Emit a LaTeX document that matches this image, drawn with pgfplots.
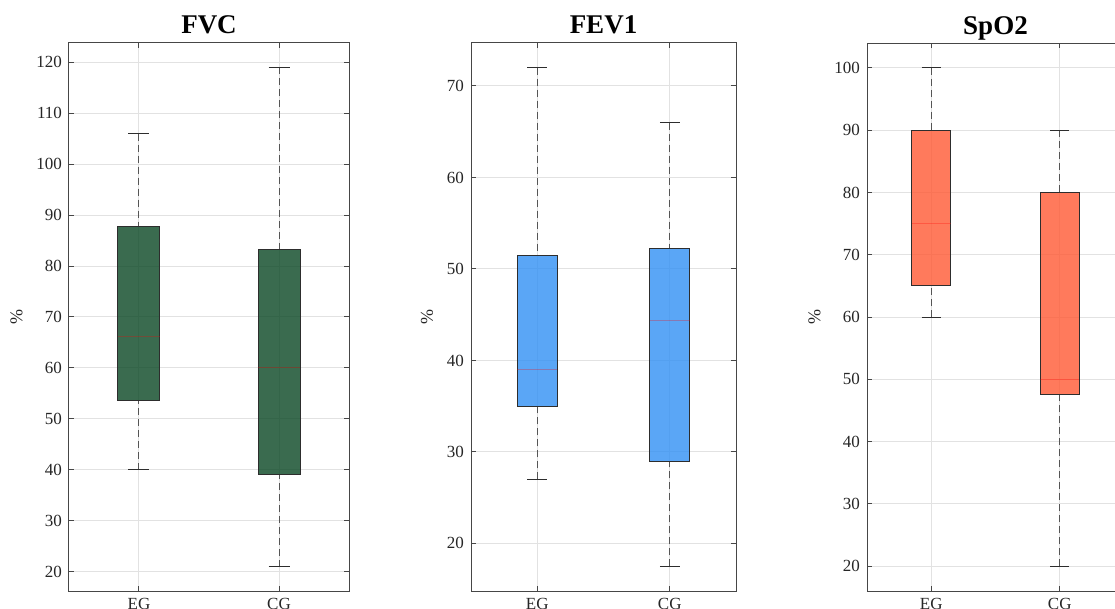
\documentclass[border=0pt]{standalone}
\usepackage{fontspec}
\setmainfont{Liberation Serif}
\usepackage{pgfplots}
\pgfplotsset{compat=1.18}
\usepgfplotslibrary{statistics}
\definecolor{cgreen}{RGB}{9,70,35}
\definecolor{cblue}{RGB}{49,144,244}
\definecolor{cred}{RGB}{255,89,51}
\definecolor{axgray}{RGB}{70,70,70}
\definecolor{gridgray}{RGB}{226,226,226}
\definecolor{whiskgray}{RGB}{85,85,85}
\definecolor{capgray}{RGB}{45,45,45}
\definecolor{txt}{RGB}{38,38,38}
\pgfplotsset{
  mybox/.style={
    scale only axis, height=274pt, anchor=south west,
    xmin=0.5, xmax=2.5, xtick={1,2}, xticklabels={EG,CG},
    grid=major, major grid style={gridgray, line width=0.5pt},
    axis line style={axgray, line width=0.5pt},
    tick style={axgray, line width=0.5pt},
    tick align=inside, major tick length=2.5pt,
    xtick pos=both, ytick pos=both,
    ticklabel style={font=\fontsize{8.5}{10}\selectfont, text=txt},
    /pgf/number format/assume math mode=true,
    ylabel={\%}, ylabel style={font=\fontsize{9}{10}\selectfont, text=txt},
    title style={font=\bfseries\fontsize{13.5}{15}\selectfont, text=black, anchor=base, yshift=-1.5pt},
    boxplot/draw direction=y,
    boxplot/box extend=0.3,
    boxplot/whisker extend=0.15,
    boxplot/every median/.style={draw=red, draw opacity=0.28, line width=0.5pt},
    boxplot/draw/lower whisker/.code={%
      \draw[dash pattern=on 3.5pt off 2pt, whiskgray, line width=0.5pt]
        (boxplot box cs:\pgfplotsboxplotvalue{lower whisker},0.5) -- (boxplot box cs:\pgfplotsboxplotvalue{lower quartile},0.5);
      \draw[solid, capgray, line width=0.5pt]
        (boxplot box cs:\pgfplotsboxplotvalue{lower whisker},0.25) -- (boxplot box cs:\pgfplotsboxplotvalue{lower whisker},0.75);
    },
    boxplot/draw/upper whisker/.code={%
      \draw[dash pattern=on 3.5pt off 2pt, whiskgray, line width=0.5pt]
        (boxplot box cs:\pgfplotsboxplotvalue{upper whisker},0.5) -- (boxplot box cs:\pgfplotsboxplotvalue{upper quartile},0.5);
      \draw[solid, capgray, line width=0.5pt]
        (boxplot box cs:\pgfplotsboxplotvalue{upper whisker},0.25) -- (boxplot box cs:\pgfplotsboxplotvalue{upper whisker},0.75);
    },
  }
}
\begin{document}
\begin{tikzpicture}
\useasboundingbox (0pt,0pt) rectangle (557.5pt,-304.5pt);
\clip (0pt,0pt) rectangle (557.5pt,-304.5pt);
% FVC
\begin{axis}[mybox, at={(34.5pt,-295.5pt)}, width=140pt,
  ymin=16.2, ymax=123.8, ytick={20,30,...,120}, title={FVC},
  boxplot/every box/.style={fill=cgreen, fill opacity=0.8, draw=capgray, line width=0.5pt}]
\addplot[boxplot prepared={draw position=1, lower whisker=40, lower quartile=53.6, median=66.1, upper quartile=87.7, upper whisker=106}, capgray, solid] coordinates {};
\addplot[boxplot prepared={draw position=2, lower whisker=21, lower quartile=39.1, median=60.1, upper quartile=83.2, upper whisker=119}, capgray, solid] coordinates {};
\end{axis}
% FEV1
\begin{axis}[mybox, at={(235.5pt,-295.5pt)}, width=132.5pt,
  ymin=14.8, ymax=74.7, ytick={20,30,...,70}, title={FEV1},
  boxplot/every box/.style={fill=cblue, fill opacity=0.8, draw=capgray, line width=0.5pt}]
\addplot[boxplot prepared={draw position=1, lower whisker=27, lower quartile=35, median=39, upper quartile=51.5, upper whisker=72}, capgray, solid] coordinates {};
\addplot[boxplot prepared={draw position=2, lower whisker=17.5, lower quartile=29, median=44.4, upper quartile=52.2, upper whisker=66}, capgray, solid] coordinates {};
\end{axis}
% SpO2
\begin{axis}[mybox, at={(433.5pt,-295.5pt)}, width=128.5pt,
  ymin=16, ymax=104, ytick={20,30,...,100}, title={SpO2},
  boxplot/every box/.style={fill=cred, fill opacity=0.8, draw=capgray, line width=0.5pt}]
\addplot[boxplot prepared={draw position=1, lower whisker=60, lower quartile=65, median=75, upper quartile=90, upper whisker=100}, capgray, solid] coordinates {};
\addplot[boxplot prepared={draw position=2, lower whisker=20, lower quartile=47.5, median=50, upper quartile=80, upper whisker=90}, capgray, solid] coordinates {};
\end{axis}
\end{tikzpicture}
\end{document}
